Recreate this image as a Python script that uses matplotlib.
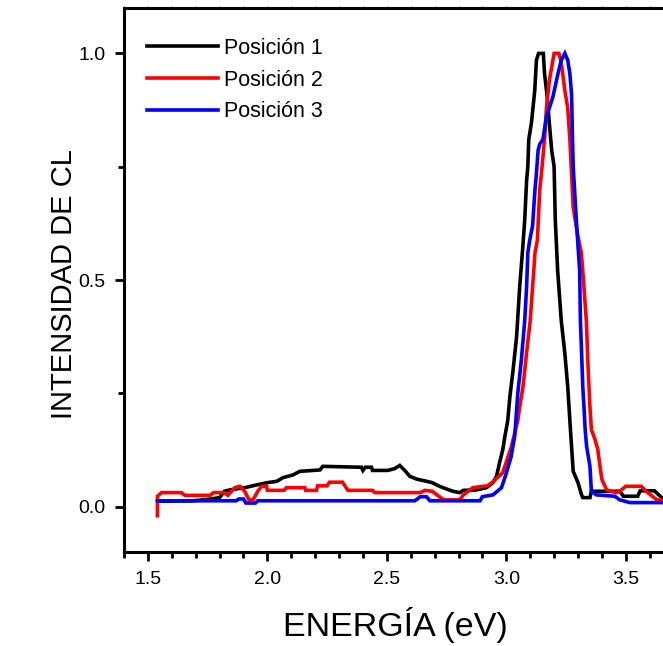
"""CL spectra at three positions (normalised intensity vs energy)."""
import matplotlib
matplotlib.use("Agg")
import matplotlib.pyplot as plt
from matplotlib.ticker import MultipleLocator, FormatStrFormatter

plt.rcParams["font.family"] = ["Liberation Sans", "DejaVu Sans"]

# ---- data ----
energy_p1 = [1.546, 1.69, 1.75, 1.80, 1.82, 1.843, 1.906, 1.955, 2.0, 2.04, 2.065,
             2.107, 2.136, 2.22, 2.232, 2.394, 2.40, 2.41, 2.436, 2.44, 2.504,
             2.533, 2.554, 2.575, 2.596, 2.624, 2.666, 2.69, 2.72, 2.75, 2.776,
             2.805, 2.82, 2.875, 2.917, 2.944, 2.959, 2.973, 2.985, 2.994, 3.006,
             3.015, 3.028, 3.043, 3.056, 3.069, 3.077, 3.085, 3.09, 3.094, 3.105,
             3.119, 3.126, 3.135, 3.155, 3.16, 3.17, 3.18, 3.19, 3.20, 3.205,
             3.215, 3.23, 3.245, 3.257, 3.266, 3.273, 3.28, 3.30, 3.315, 3.32,
             3.35, 3.356, 3.475, 3.49, 3.55, 3.56, 3.62, 3.65, 3.70]
cl_p1 = [0.012, 0.013, 0.016, 0.02, 0.034, 0.037, 0.042, 0.048, 0.053, 0.056, 0.064,
         0.07, 0.078, 0.081, 0.089, 0.087, 0.08, 0.087, 0.087, 0.08, 0.08,
         0.084, 0.091, 0.08, 0.067, 0.061, 0.056, 0.053, 0.045, 0.039, 0.034,
         0.031, 0.036, 0.037, 0.042, 0.053, 0.067, 0.10, 0.125, 0.155, 0.19,
         0.243, 0.30, 0.375, 0.485, 0.573, 0.632, 0.72, 0.75, 0.81, 0.846,
         0.918, 0.985, 1.0, 1.0, 0.955, 0.91, 0.846, 0.786, 0.75, 0.632,
         0.52, 0.41, 0.338, 0.265, 0.19, 0.133, 0.078, 0.053, 0.026, 0.02,
         0.02, 0.034, 0.034, 0.023, 0.023, 0.035, 0.035, 0.02, 0.018]

energy_p2 = [1.54, 1.54, 1.557, 1.64, 1.655, 1.76, 1.775, 1.82, 1.835, 1.864, 1.885,
             1.905, 1.923, 1.94, 1.96, 1.976, 1.997, 2.0, 2.07, 2.08, 2.157, 2.16,
             2.206, 2.21, 2.25, 2.26, 2.315, 2.337, 2.44, 2.45, 2.64, 2.66, 2.69,
             2.72, 2.74, 2.805, 2.82, 2.86, 2.92, 2.94, 2.985, 3.02, 3.048, 3.056,
             3.07, 3.085, 3.10, 3.11, 3.12, 3.13, 3.14, 3.147, 3.16, 3.168, 3.18,
             3.195, 3.20, 3.22, 3.23, 3.245, 3.257, 3.266, 3.273, 3.28, 3.295,
             3.314, 3.32, 3.335, 3.342, 3.35, 3.356, 3.37, 3.383, 3.39, 3.40,
             3.42, 3.46, 3.475, 3.50, 3.565, 3.585, 3.63, 3.70]
cl_p2 = [-0.02, 0.023, 0.031, 0.031, 0.025, 0.025, 0.031, 0.031, 0.025, 0.042, 0.045,
         0.034, 0.015, 0.015, 0.034, 0.045, 0.045, 0.036, 0.036, 0.042, 0.042, 0.036,
         0.036, 0.046, 0.046, 0.054, 0.054, 0.036, 0.036, 0.031, 0.031, 0.036, 0.034,
         0.022, 0.015, 0.015, 0.026, 0.042, 0.046, 0.053, 0.075, 0.13, 0.19, 0.22,
         0.265, 0.34, 0.41, 0.485, 0.56, 0.588, 0.70, 0.735, 0.81, 0.88, 0.94,
         0.985, 1.0, 1.0, 0.98, 0.918, 0.88, 0.81, 0.735, 0.66, 0.61,
         0.56, 0.52, 0.41, 0.31, 0.22, 0.17, 0.15, 0.126, 0.097, 0.06,
         0.037, 0.031, 0.034, 0.045, 0.045, 0.034, 0.015, 0.013]

energy_p3 = [1.54, 1.87, 1.88, 1.90, 1.91, 1.95, 1.96, 2.617, 2.64, 2.666, 2.68,
             2.89, 2.90, 2.944, 2.96, 2.98, 3.0, 3.02, 3.035, 3.04, 3.048, 3.063,
             3.077, 3.085, 3.09, 3.098, 3.11, 3.12, 3.126, 3.133, 3.14, 3.153,
             3.168, 3.195, 3.216, 3.23, 3.245, 3.257, 3.266, 3.273, 3.277, 3.28,
             3.293, 3.307, 3.31, 3.315, 3.32, 3.325, 3.33, 3.336, 3.35, 3.356,
             3.377, 3.454, 3.475, 3.517, 3.70]
cl_p3 = [0.013, 0.013, 0.017, 0.017, 0.008, 0.008, 0.013, 0.013, 0.022, 0.022, 0.013,
         0.013, 0.022, 0.026, 0.033, 0.042, 0.074, 0.11, 0.155, 0.19, 0.25, 0.324,
         0.41, 0.485, 0.56, 0.588, 0.62, 0.70, 0.735, 0.786, 0.80, 0.81,
         0.86, 0.904, 0.955, 0.985, 1.0, 0.985, 0.955, 0.91, 0.81, 0.75,
         0.632, 0.52, 0.41, 0.34, 0.265, 0.22, 0.17, 0.133, 0.089, 0.034,
         0.026, 0.023, 0.015, 0.009, 0.009]

labels = ["Posición 1", "Posición 2", "Posición 3"]
colors = ["black", "red", "blue"]

fig = plt.figure(figsize=(6.63, 6.46), dpi=100)
# axes run past the right edge of the canvas, as in the reference crop
ax = fig.add_axes([0.187, 0.1455, 0.865, 0.842])

for xs, ys, lab, c in zip([energy_p1, energy_p2, energy_p3],
                          [cl_p1, cl_p2, cl_p3], labels, colors):
    ax.plot(xs, ys, color=c, lw=2.6, label=lab, solid_joinstyle="miter")

ax.set_xlim(1.4, 3.8)
ax.set_ylim(-0.1, 1.1)
ax.xaxis.set_major_locator(MultipleLocator(0.5))
ax.xaxis.set_minor_locator(MultipleLocator(0.1))
ax.yaxis.set_major_locator(MultipleLocator(0.5))
ax.yaxis.set_minor_locator(MultipleLocator(0.25))
ax.xaxis.set_major_formatter(FormatStrFormatter("%.1f"))
ax.yaxis.set_major_formatter(FormatStrFormatter("%.1f"))

for s in ax.spines.values():
    s.set_linewidth(2.2)
ax.tick_params(which="major", direction="out", length=6.5, width=2,
               labelsize=14, pad=7)
ax.tick_params(which="minor", direction="out", length=4.5, width=2)

# tiny ticks along the top spine
top = ax.secondary_xaxis("top")
top.xaxis.set_major_locator(MultipleLocator(0.1))
top.tick_params(length=1.5, width=1, color="0.4", labeltop=False)
top.spines["top"].set_visible(False)

ax.set_xlabel("ENERGÍA (eV)", fontsize=24.5, va="baseline")
ax.xaxis.set_label_coords(0.474, -0.155)
ax.set_ylabel("INTENSIDAD DE CL", fontsize=21)
ax.yaxis.set_label_coords(-0.080, 0.4926)

ax.legend(loc="upper left", bbox_to_anchor=(0.04, 0.945), frameon=False,
          fontsize=15.5, handlelength=3.3, handletextpad=0.3,
          labelspacing=0.49, borderpad=0, borderaxespad=0)

fig.savefig("out.png", dpi=100)
